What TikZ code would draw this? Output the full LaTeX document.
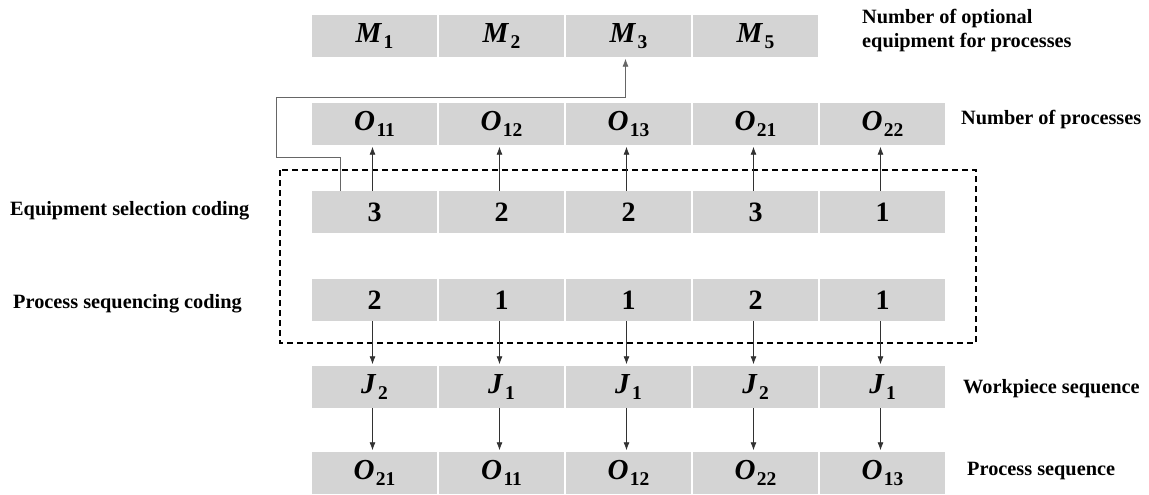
\documentclass[tikz,border=0pt]{standalone}
\usepackage{fontspec}
\setmainfont{Liberation Serif}
\usetikzlibrary{arrows.meta,calc}
\definecolor{cellgray}{RGB}{212,212,212}
\definecolor{linegray}{RGB}{50,50,50}
\newcommand{\cv}[2]{\textbf{\textit{#1}}\kern1.5pt\raisebox{-6pt}{\fontsize{19.5}{19.5}\selectfont\textbf{#2}}}
\begin{document}
\begin{tikzpicture}[x=1pt,y=-1pt,
  cell/.style={fill=cellgray, minimum width=125pt, minimum height=42pt, inner sep=0pt,
    font=\fontsize{29}{29}\selectfont},
  dig/.style={cell, font=\fontsize{28}{28}\selectfont\bfseries},
  lab/.style={font=\fontsize{20.3}{24}\selectfont\bfseries, anchor=west, inner sep=0pt, align=left},
  arr/.style={-{Latex[length=8pt,width=6pt]}, line width=0.8pt, draw=linegray, shorten >=1.5pt}]
\useasboundingbox (0,0) rectangle (1149,495);

% Row M
\node[cell] (m1) at (374.5,36) {\cv{M}{1}};
\node[cell] (m2) at (501.5,36) {\cv{M}{2}};
\node[cell] (m3) at (628.5,36) {\cv{M}{3}};
\node[cell] (m4) at (755.5,36) {\cv{M}{5}};
% Row O
\node[cell] (o1) at (374.5,124) {\cv{O}{11}};
\node[cell] (o2) at (501.5,124) {\cv{O}{12}};
\node[cell] (o3) at (628.5,124) {\cv{O}{13}};
\node[cell] (o4) at (755.5,124) {\cv{O}{21}};
\node[cell] (o5) at (882.5,124) {\cv{O}{22}};
% Equipment selection
\node[dig] (e1) at (374.5,212) {3};
\node[dig] (e2) at (501.5,212) {2};
\node[dig] (e3) at (628.5,212) {2};
\node[dig] (e4) at (755.5,212) {3};
\node[dig] (e5) at (882.5,212) {1};
% Process sequencing
\node[dig] (p1) at (374.5,300) {2};
\node[dig] (p2) at (501.5,300) {1};
\node[dig] (p3) at (628.5,300) {1};
\node[dig] (p4) at (755.5,300) {2};
\node[dig] (p5) at (882.5,300) {1};
% Workpiece
\node[cell] (j1) at (374.5,387) {\cv{J}{2}};
\node[cell] (j2) at (501.5,387) {\cv{J}{1}};
\node[cell] (j3) at (628.5,387) {\cv{J}{1}};
\node[cell] (j4) at (755.5,387) {\cv{J}{2}};
\node[cell] (j5) at (882.5,387) {\cv{J}{1}};
% Process sequence
\node[cell] (s1) at (374.5,473) {\cv{O}{21}};
\node[cell] (s2) at (501.5,473) {\cv{O}{11}};
\node[cell] (s3) at (628.5,473) {\cv{O}{12}};
\node[cell] (s4) at (755.5,473) {\cv{O}{22}};
\node[cell] (s5) at (882.5,473) {\cv{O}{13}};

% dashed frame
\draw[line width=1.4pt, dash pattern=on 6pt off 4pt] (280,170) rectangle (976,343);

% arrows
\foreach \i in {1,...,5}{
  \draw[arr] ([xshift=-2pt]e\i.north) -- ([xshift=-2pt]o\i.south);
  \draw[arr] ([xshift=-2pt]p\i.south) -- ([xshift=-2pt]j\i.north);
  \draw[arr] ([xshift=-2pt]j\i.south) -- ([xshift=-2pt]s\i.north);
}

% elbow connector
\coordinate (k1) at (276,157);
\coordinate (k2) at (276,97);
\draw[arr, line width=0.7pt, draw=black!60] ([xshift=-34.5pt]e1.north) |- (k1) -- (k2) -| ([xshift=-3pt]m3.south);

% labels
\node[lab] (lm) at (862,31) {Number of optional\\equipment for processes};
\node[lab] (lo) at (961,120) {Number of processes};
\node[lab] (lw) at (963,389) {Workpiece sequence};
\node[lab] (lps) at (967,471) {Process sequence};
\node[lab] (le) at (10,211) {Equipment selection coding};
\node[lab] (lp) at (13,304) {Process sequencing coding};
\end{tikzpicture}
\end{document}
